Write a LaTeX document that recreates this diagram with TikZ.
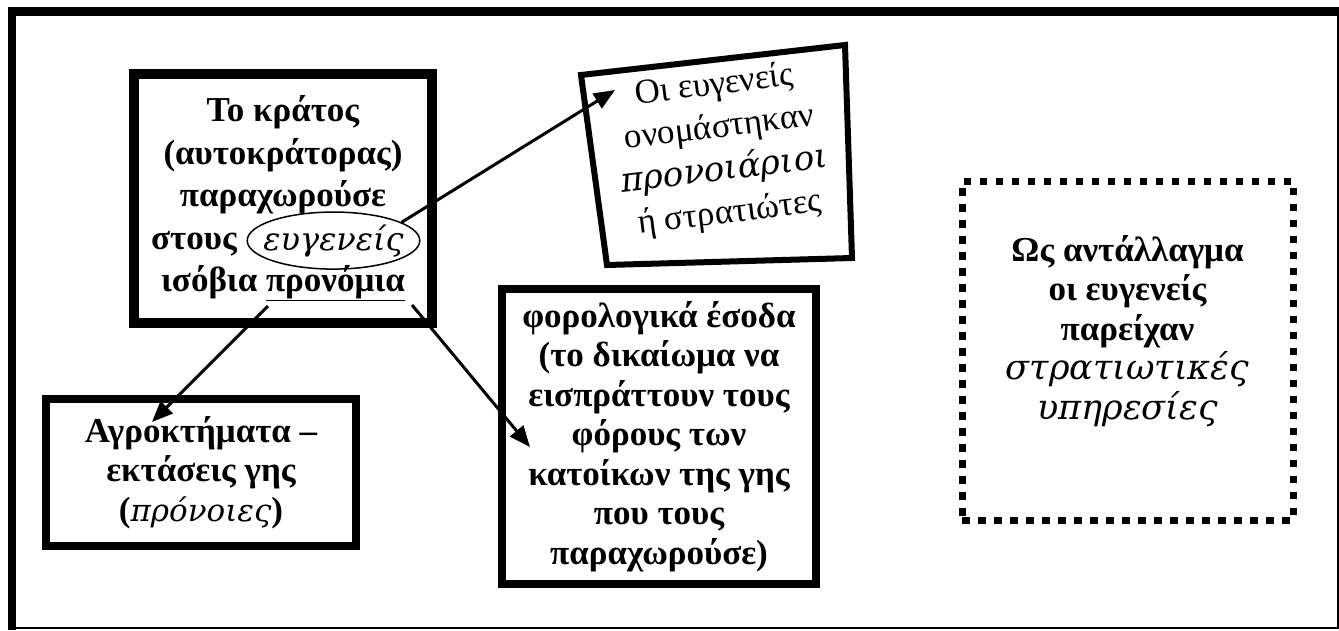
\documentclass[tikz,border=0pt]{standalone}
\usepackage{fontspec}
\setmainfont{Liberation Serif}
\newfontfamily\dvit{DejaVu Serif}
\newcommand{\itgr}[2][35]{{\dvit\mdseries\itshape\fontsize{#1}{39.5}\selectfont #2}}
\usetikzlibrary{arrows.meta,shapes.geometric}

\tikzset{
	txt/.style={font=\bfseries\fontsize{35}{39.5}\selectfont, align=center, inner sep=0pt},
	box/.style={txt, draw, line width=8pt},
	arr/.style={line width=3pt, -{Triangle[length=21pt,width=17pt]}}
}

\begin{document}
\begin{tikzpicture}[x=1pt,y=-1pt]
		\useasboundingbox (0,0) rectangle (1339,630);
		\draw [line width=8.5pt](12,630) -- (12,11.5) -- (1339,11.5);
		\draw [line width=2pt](1338,7) -- (1338,627.5) -- (8,627.5);

		\node[box, line width=10pt, minimum width=298pt, minimum height=249pt,
			font=\bfseries\fontsize{35}{42.5}\selectfont] (state) at (283,198.5)
			{Το κράτος\\(αυτοκράτορας)\\παραχωρούσε\\στους\makebox[178pt]{}\\ισόβια \underline{προνόμια}};
		\node[draw, ellipse, line width=1.5pt, inner xsep=-9pt, inner ysep=4pt,
			anchor=base] (noble) at (333.5,250) {\itgr[32]{ευγενείς}};

		\draw [line width=6pt](581,75) -- (845,45) -- (852,258) -- (607,265) -- cycle;
		\node[txt, rotate=7, font=\fontsize{35}{43}\selectfont] (named) at (722,150)
			{Οι ευγενείς\\ονομάστηκαν\\\itgr[34]{προνοιάριοι}\\ή στρατιώτες};

		\node[box, minimum width=310pt, minimum height=147pt] (estate) at (201,472.5)
			{Αγροκτήματα –\\εκτάσεις γης\\(\itgr[31]{πρόνοιες})};
		\node[box, minimum width=314pt, minimum height=295pt] (tax) at (659,436.5)
			{φορολογικά έσοδα\\(το δικαίωμα να\\εισπράττουν τους\\φόρους των\\κατοίκων της γης\\που τους\\παραχωρούσε)};
		\node[box, line width=7pt, dash pattern=on 7.5pt off 8.5pt, minimum width=331pt, minimum height=339pt] (duty) at (1127.5,350.5)
			{Ως αντάλλαγμα\\οι ευγενείς\\παρείχαν\\\itgr{στρατιωτικές}\\\itgr{υπηρεσίες}\rule[-47pt]{0pt}{47pt}};

		\coordinate (tipN) at (615,90);
		\coordinate (privL) at (268,306);
		\coordinate (privR) at (412,305);
		\coordinate (tipE) at (152,422);
		\coordinate (tipT) at (530,447);
		\draw[arr] (noble.15) -- (tipN);
		\draw[arr] (privL) -- (tipE);
		\draw[arr] (privR) -- (tipT);
\end{tikzpicture}
\end{document}
